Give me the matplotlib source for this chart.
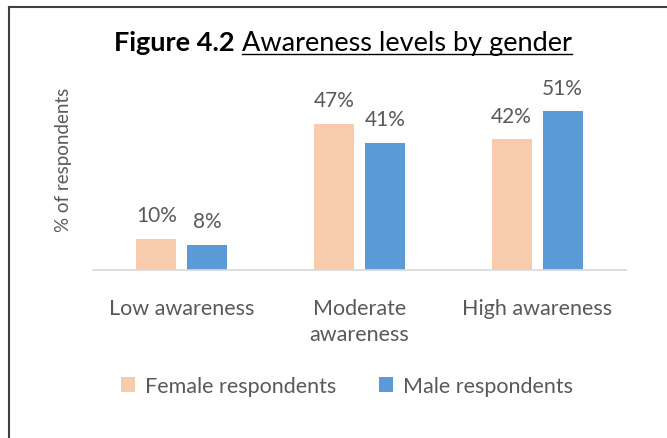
import matplotlib
matplotlib.use("Agg")
import matplotlib.pyplot as plt
import numpy as np
from matplotlib.lines import Line2D

plt.rcParams['font.family'] = ['Lato', 'DejaVu Sans']

# data
categories = ["Low awareness", "Moderate\nawareness", "High awareness"]
female = [10, 47, 42]
male = [8, 41, 51]
series_names = ["Female respondents", "Male respondents"]

female_color = "#F8CBAD"
male_color = "#5B9BD5"
text_grey = "#595959"

fig = plt.figure(figsize=(6.67, 4.39), dpi=100)
ax = fig.add_axes([0.1394, 0.3827, 0.7991, 0.4305])

x = np.arange(len(categories))
w = 0.225
off = 0.1437
b1 = ax.bar(x - off, female, w, color=female_color, label=series_names[0])
b2 = ax.bar(x + off, male, w, color=male_color, label=series_names[1])

for bars, vals in [(b1, female), (b2, male)]:
    for rect, v in zip(bars, vals):
        ax.annotate(f"{v}%", (rect.get_x() + rect.get_width() / 2, v),
                    xytext=(0, 10), textcoords="offset points",
                    ha="center", va="bottom", fontsize=15, color=text_grey)

ax.set_xlim(-0.5, 2.5)
ax.set_ylim(0, 60.8)
ax.set_yticks([])
ax.set_xticks(x)
ax.set_xticklabels(categories, fontsize=15.5, color=text_grey, linespacing=1.42)
ax.tick_params(axis="x", length=0, pad=20)
for s in ["top", "right", "left"]:
    ax.spines[s].set_visible(False)
ax.spines["bottom"].set_color("#D9D9D9")
ax.spines["bottom"].set_linewidth(1.2)
ax.set_ylabel("% of respondents", fontsize=13.5, color=text_grey)
ax.yaxis.set_label_coords(-0.04, 0.59)

leg = fig.legend(loc="center", bbox_to_anchor=(0.52, 0.118), ncol=2, frameon=False,
                 fontsize=15.5, handlelength=0.65, handleheight=0.65, handletextpad=0.45,
                 columnspacing=2.0, labelcolor=text_grey)

# title: bold part + underlined part
renderer = fig.canvas.get_renderer()
ty = 1 - 51 / 439
t1 = fig.text(0, ty, "Figure 4.2 ", fontsize=19.5, fontweight="bold", color="black",
              va="baseline")
t2 = fig.text(0, ty, "Awareness levels by gender", fontsize=19.5, color="black",
              va="baseline")
e1 = t1.get_window_extent(renderer)
e2 = t2.get_window_extent(renderer)
W = fig.bbox.width
total = e1.width + e2.width
start = 343 / W - total / W / 2
t1.set_x(start)
t2.set_x(start + e1.width / W)
ul_y = ty - 4 / fig.bbox.height
fig.add_artist(Line2D([start + e1.width / W, start + total / W], [ul_y, ul_y],
                      color="black", lw=1.0, transform=fig.transFigure))

# frame lines along top and left edge
fig.add_artist(Line2D([8.5 / W, 1.0], [1 - 8 / 439, 1 - 8 / 439], color="#404040",
                      lw=1.5, transform=fig.transFigure))
fig.add_artist(Line2D([8.5 / W, 8.5 / W], [0, 1 - 8 / 439], color="#404040",
                      lw=1.5, transform=fig.transFigure))

fig.savefig("out.png", dpi=100)
